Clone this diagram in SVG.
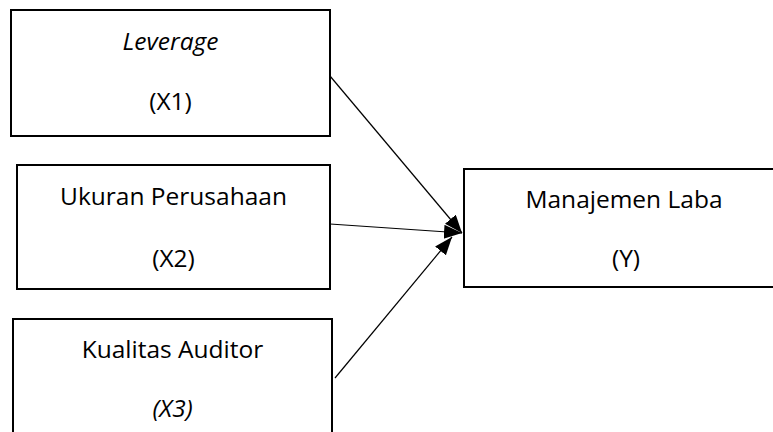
<svg xmlns="http://www.w3.org/2000/svg" width="773" height="432" viewBox="0 0 773 432">
<style>
.box{fill:#fff;stroke:#000;stroke-width:2}
.t{font-family:"Open Sans","Liberation Sans",sans-serif;font-size:24.5px;fill:#000;text-anchor:middle}
.i{font-style:italic}
.c{stroke:#000;stroke-width:1.2;fill:none;marker-end:url(#ah)}
</style>
<defs>
<marker id="ah" markerUnits="userSpaceOnUse" markerWidth="20" markerHeight="16" refX="18" refY="7" orient="auto">
<path d="M0,0 L18,7 L0,14 z" fill="#000"/>
</marker>
</defs>
<rect width="773" height="432" fill="#fff"/>
<g id="x1">
<rect class="box" x="11" y="10" width="319" height="126"/>
<text class="t i" x="170.5" y="50">Leverage</text>
<text class="t" x="170.5" y="110">(X1)</text>
</g>
<g id="x2">
<rect class="box" x="17" y="165" width="313" height="124"/>
<text class="t" x="173.5" y="205">Ukuran Perusahaan</text>
<text class="t" x="173.5" y="267">(X2)</text>
</g>
<g id="x3">
<rect class="box" x="13" y="319" width="319" height="130"/>
<text class="t" x="172.5" y="358">Kualitas Auditor</text>
<text class="t i" x="172.5" y="417">(X3)</text>
</g>
<g id="y">
<rect class="box" x="464" y="169" width="330" height="118"/>
<text class="t" x="624" y="208">Manajemen Laba</text>
<text class="t" x="626" y="267">(Y)</text>
</g>
<g id="connectors">
<line class="c" x1="330" y1="76" x2="462" y2="233"/>
<line class="c" x1="330" y1="224" x2="462" y2="233"/>
<line class="c" x1="335" y1="378" x2="452" y2="237"/>
</g>
</svg>
